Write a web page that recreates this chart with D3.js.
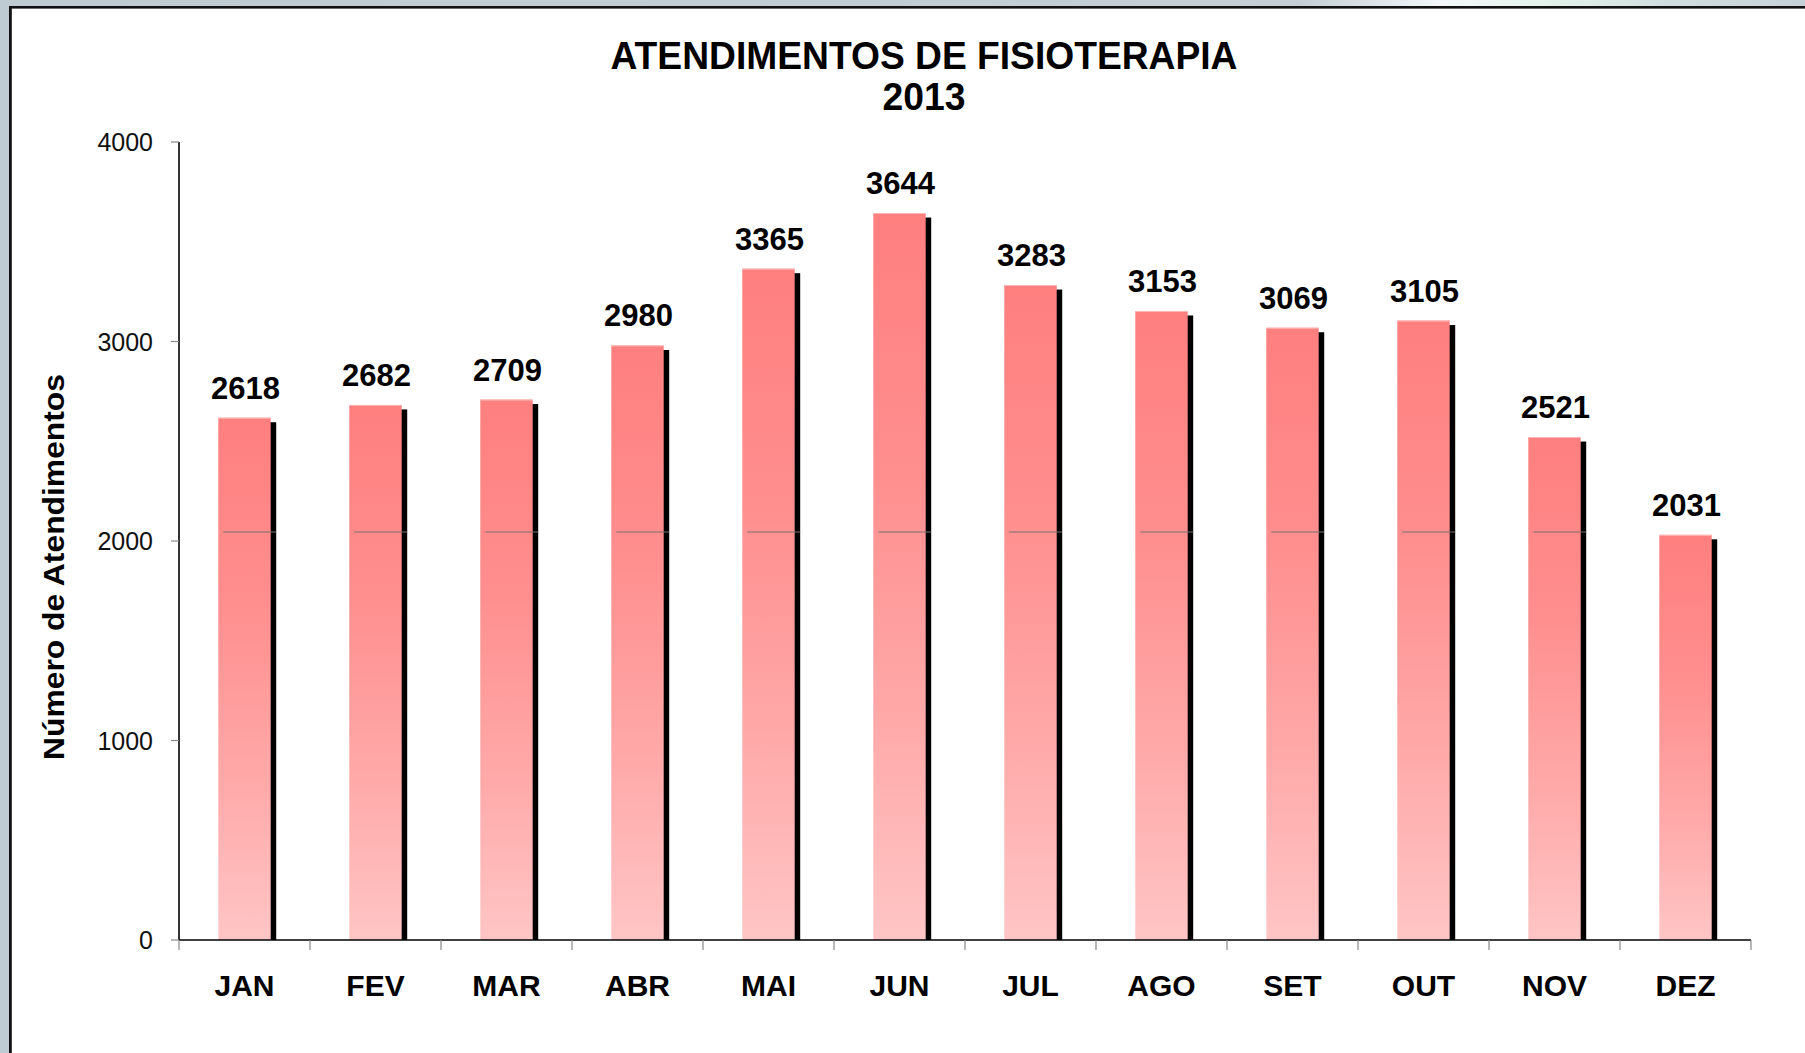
<!DOCTYPE html>
<html>
<head>
<meta charset="utf-8">
<script src="https://cdn.jsdelivr.net/npm/d3@7"></script>
<style>
  html, body { margin: 0; padding: 0; background: #fff; }
  svg { display: block; }
</style>
</head>
<body>
<svg id="chart" width="1805" height="1053"></svg>
<script>
const months = ["JAN","FEV","MAR","ABR","MAI","JUN","JUL","AGO","SET","OUT","NOV","DEZ"];
const values = [2618, 2682, 2709, 2980, 3365, 3644, 3283, 3153, 3069, 3105, 2521, 2031];
const yTicks = [0, 1000, 2000, 3000, 4000];
const titleLines = ["ATENDIMENTOS DE FISIOTERAPIA", "2013"];
const yLabel = "Número de Atendimentos";
const seamValue = 2045;

const W = 1805, H = 1053;
const svg = d3.select("#chart");
const font = "'Liberation Sans', Arial, Helvetica, sans-serif";

// frame / background
const defs = svg.append("defs");
const topGrad = defs.append("linearGradient").attr("id","topGrad").attr("x1","0").attr("x2","1").attr("y1","0").attr("y2","0");
[[0,"#bfcbd2"],[0.72,"#c4ced4"],[0.80,"#f4f8fa"],[0.86,"#e2f2ea"],[0.92,"#d2dfe0"],[1,"#c5d1d7"]]
  .forEach(([o,c]) => topGrad.append("stop").attr("offset",o).attr("stop-color",c));
svg.append("rect").attr("x",0).attr("y",0).attr("width",W).attr("height",7).attr("fill","url(#topGrad)");
svg.append("rect").attr("x",0).attr("y",0).attr("width",10).attr("height",H).attr("fill","#bfcbd2");
svg.append("rect").attr("x",9).attr("y",6).attr("width",W-9).attr("height",2.6).attr("fill","#111");
svg.append("rect").attr("x",9).attr("y",6).attr("width",2.8).attr("height",H-6).attr("fill","#111");

const barGrad = defs.append("linearGradient").attr("id","barGrad").attr("x1","0").attr("x2","0").attr("y1","0").attr("y2","1");
[[0,"#ff7f7f"],[0.35,"#ff8e8e"],[0.7,"#ffa9a9"],[1,"#ffc5c5"]]
  .forEach(([o,c]) => barGrad.append("stop").attr("offset",o).attr("stop-color",c));

// scales
const x = d3.scaleBand().domain(months).range([179, 1751]).paddingInner(0.6).paddingOuter(0.3);
const y = d3.scaleLinear().domain([0, 4000]).range([940, 142]);
const step = x.step();
const x0 = x.range()[0];
const y0 = y(0);

// bars
const g = svg.append("g");
const data = months.map((m,i) => ({m, v: values[i]}));
const shX = 5.5, shY = 4.5;

g.selectAll("rect.shadow").data(data).join("rect")
  .attr("class","shadow")
  .attr("x", d => x(d.m) + shX)
  .attr("y", d => y(d.v) + shY)
  .attr("width", x.bandwidth())
  .attr("height", d => y0 - y(d.v) - shY)
  .attr("fill", "#000");

g.selectAll("rect.bar").data(data).join("rect")
  .attr("class","bar")
  .attr("x", d => x(d.m))
  .attr("y", d => y(d.v))
  .attr("width", x.bandwidth())
  .attr("height", d => y0 - y(d.v))
  .attr("fill", "url(#barGrad)");

// top highlight edge
g.selectAll("line.hl").data(data).join("line")
  .attr("x1", d => x(d.m)).attr("x2", d => x(d.m) + x.bandwidth())
  .attr("y1", d => y(d.v) + 0.5).attr("y2", d => y(d.v) + 0.5)
  .attr("stroke", "#ffb8b8").attr("stroke-width", 1);

// seam line artifact
g.selectAll("line.seam").data(data.filter(d => d.v > seamValue)).join("line")
  .attr("x1", d => x(d.m) + 5).attr("x2", d => x(d.m) + x.bandwidth() + shX)
  .attr("y1", y(seamValue)).attr("y2", y(seamValue))
  .attr("stroke", "#7a7070").attr("stroke-width", 1.2);

// value labels
g.selectAll("text.val").data(data).join("text")
  .attr("class","val")
  .attr("x", d => x(d.m) + x.bandwidth()/2 + 1)
  .attr("y", d => y(d.v) - 19)
  .attr("text-anchor","middle")
  .attr("font-family", font).attr("font-weight","bold").attr("font-size", 31)
  .attr("fill","#000")
  .text(d => d.v);

// axes
const ax = svg.append("g");
ax.append("line").attr("x1",179).attr("x2",179).attr("y1",y(4000)).attr("y2",y0)
  .attr("stroke","#000").attr("stroke-width",1.6);
ax.selectAll("line.yt").data(yTicks).join("line")
  .attr("x1",171).attr("x2",179).attr("y1",d=>y(d)).attr("y2",d=>y(d))
  .attr("stroke","#888").attr("stroke-width",1.2);
ax.selectAll("text.yl").data(yTicks).join("text")
  .attr("x",153).attr("y",d=>y(d)).attr("dy","0.36em")
  .attr("text-anchor","end")
  .attr("font-family", font).attr("font-size",25).attr("fill","#111")
  .text(d=>d);
ax.append("line").attr("x1",x.range()[0]).attr("x2",x.range()[1]).attr("y1",y0).attr("y2",y0)
  .attr("stroke","#000").attr("stroke-width",1.6);
const bounds = d3.range(months.length + 1).map(i => x0 + i*step);
ax.selectAll("line.xt").data(bounds).join("line")
  .attr("x1",d=>d).attr("x2",d=>d).attr("y1",y0).attr("y2",y0+10)
  .attr("stroke","#888").attr("stroke-width",1.2);
ax.selectAll("text.xl").data(months).join("text")
  .attr("x", d => x(d) + x.bandwidth()/2)
  .attr("y", 996)
  .attr("text-anchor","middle")
  .attr("font-family", font).attr("font-weight","bold").attr("font-size",30).attr("fill","#000")
  .text(d=>d);

// y axis title
svg.append("text")
  .attr("transform","translate(64,567) rotate(-90)")
  .attr("text-anchor","middle")
  .attr("font-family", font).attr("font-weight","bold").attr("font-size",30)
  .attr("textLength",386).attr("lengthAdjust","spacingAndGlyphs")
  .attr("fill","#000")
  .text(yLabel);

// title
const tw = [627, 83];
const tb = [69, 110];
titleLines.forEach((t,i) => {
  svg.append("text")
    .attr("x",924).attr("y",tb[i])
    .attr("text-anchor","middle")
    .attr("font-family", font).attr("font-weight","bold").attr("font-size",39)
    .attr("textLength",tw[i]).attr("lengthAdjust","spacingAndGlyphs")
    .attr("fill","#000")
    .text(t);
});
</script>
</body>
</html>
